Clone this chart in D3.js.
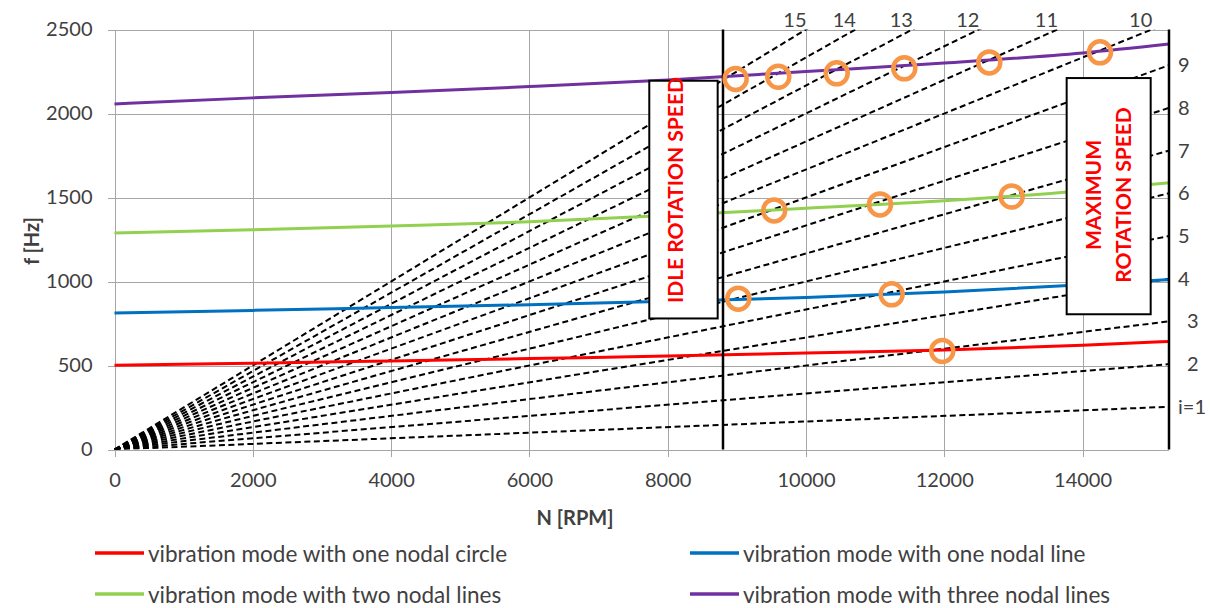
<!DOCTYPE html>
<html>
  <head>
    <meta charset="utf-8">
    <title>Campbell diagram</title>
    <script src="https://cdn.jsdelivr.net/npm/d3@7/dist/d3.min.js"></script>
    <style>
      body {
        margin: 0px;
        overflow: hidden;
        background: white;
      }

      text {
        font-family: Lato, "Open Sans", sans-serif;
        fill: #404040;
      }

      .grid line {
        stroke: #a6a6a6;
        stroke-width: 1px;
        shape-rendering: crispEdges;
      }

      .order {
        fill: none;
        stroke: black;
        stroke-width: 2px;
        stroke-dasharray: 6 3.5;
      }

      .mode {
        fill: none;
        stroke-width: 3px;
      }

      .speed-line {
        stroke: black;
        stroke-width: 2.5px;
      }

      .note-box {
        fill: white;
        stroke: black;
        stroke-width: 2px;
      }

      .note {
        fill: red;
        font-weight: bold;
        font-size: 21px;
      }

      .resonance {
        fill: none;
        stroke: #f79646;
        stroke-width: 4.5px;
      }

      .axis-title {
        font-weight: bold;
        font-size: 20px;
      }
    </style>
  </head>
  <body>
    <svg id="container" width="1210" height="608"></svg>

    <script type="text/javascript">
      // rotation speed samples (RPM) where the mode frequencies were read
      var rpm = [0, 2000, 4000, 6000, 8000, 10000, 12000, 14000, 15250];

      var oneNodalCircle = [502, 514, 527, 541, 556, 574, 592, 620, 643];
      var oneNodalLine = [813, 828, 845, 862, 882, 905, 938, 980, 1011];
      var twoNodalLines = [1288, 1308, 1330, 1355, 1393, 1436, 1480, 1540, 1588];
      var threeNodalLines = [2057, 2093, 2125, 2160, 2200, 2250, 2300, 2360, 2413];

      var modeNames = [
        'vibration mode with one nodal circle',
        'vibration mode with one nodal line',
        'vibration mode with two nodal lines',
        'vibration mode with three nodal lines'
      ];
      var modeColors = ['#ff0000', '#0070c0', '#92d050', '#7030a0'];

      // engine orders i (f = i * N / 60)
      var orders = d3.range(1, 16);

      // resonance points marked with circles
      var resonanceN = [8983, 9600, 10444, 11422, 12651, 14252, 9540, 11070, 12975, 9021, 11239, 11971];
      var resonanceF = [2206, 2219, 2239, 2269, 2304, 2364, 1423, 1459, 1506, 898, 924, 587];

      var idleSpeed = 8800,
        maxSpeed = 15250;

      var xTicks = [0, 2000, 4000, 6000, 8000, 10000, 12000, 14000];
      var yTicks = [0, 500, 1000, 1500, 2000, 2500];

      var svg = d3.select('#container'),
        plotLeft = 114.5, plotRight = 1169, plotTop = 29.5, plotBottom = 449.5;

      var x = d3.scaleLinear().domain([0, maxSpeed]).range([plotLeft, plotRight]);
      var y = d3.scaleLinear().domain([0, 2500]).range([plotBottom, plotTop]);

      /*
        Grid and axes
      */
      var xAxis = svg.append('g')
        .attr('class', 'grid')
        .attr('transform', 'translate(0,' + plotBottom + ')')
        .call(d3.axisBottom(x).tickValues(xTicks).tickFormat(d3.format('d'))
          .tickSizeInner(7).tickSizeOuter(0).tickPadding(16));
      xAxis.select('.domain').remove();
      xAxis.selectAll('.tick line').attr('y1', plotTop - plotBottom);
      xAxis.selectAll('.tick text').style('font-size', '20px').attr('fill', null);

      var yAxis = svg.append('g')
        .attr('class', 'grid')
        .attr('transform', 'translate(' + plotLeft + ',0)')
        .call(d3.axisLeft(y).tickValues(yTicks).tickFormat(d3.format('d'))
          .tickSizeInner(7).tickSizeOuter(0).tickPadding(15));
      yAxis.select('.domain').remove();
      yAxis.selectAll('.tick line').attr('x1', plotRight - plotLeft);
      yAxis.selectAll('.tick text').style('font-size', '20px').attr('fill', null);

      svg.append('text')
        .attr('class', 'axis-title')
        .attr('transform', 'translate(31,241) rotate(-90)')
        .attr('text-anchor', 'middle')
        .attr('dominant-baseline', 'central')
        .text('f [Hz]');

      svg.append('text')
        .attr('class', 'axis-title')
        .attr('x', 575)
        .attr('y', 517)
        .attr('text-anchor', 'middle')
        .attr('dominant-baseline', 'central')
        .text('N [RPM]');

      svg.append('clipPath')
        .attr('id', 'plot-clip')
        .append('rect')
        .attr('x', plotLeft)
        .attr('y', plotTop)
        .attr('width', plotRight - plotLeft)
        .attr('height', plotBottom - plotTop);

      /*
        Engine order lines
      */
      var orderLine = d3.line()
        .x(function(d) { return x(d[0]); })
        .y(function(d) { return y(d[1]); });

      svg.append('g')
        .attr('clip-path', 'url(#plot-clip)')
        .selectAll('path')
        .data(orders)
        .enter()
        .append('path')
        .attr('class', 'order')
        .attr('d', function(i) { return orderLine([[0, 0], [maxSpeed, i * maxSpeed / 60]]); });

      // labels on the right for orders that reach the right edge, on top for the rest
      svg.append('g')
        .selectAll('text')
        .data(orders)
        .enter()
        .append('text')
        .style('font-size', '20px')
        .each(function(i) {
          var t = d3.select(this),
            fEnd = i * maxSpeed / 60;
          if (fEnd <= 2500) {
            t.attr('x', plotRight + (i === 2 || i === 3 ? 18 : 9))
              .attr('y', y(fEnd) - 1)
              .attr('dominant-baseline', 'central')
              .text(i === 1 ? 'i=1' : i);
          } else {
            t.attr('x', x(2500 * 60 / i) - 11)
              .attr('y', 19)
              .attr('text-anchor', 'middle')
              .attr('dominant-baseline', 'central')
              .text(i);
          }
        });

      /*
        Vibration modes
      */
      var modes = [oneNodalCircle, oneNodalLine, twoNodalLines, threeNodalLines];

      var modeLine = d3.line()
        .curve(d3.curveMonotoneX)
        .x(function(d, k) { return x(rpm[k]); })
        .y(function(d) { return y(d); });

      svg.append('g')
        .selectAll('path')
        .data(modes)
        .enter()
        .append('path')
        .attr('class', 'mode')
        .attr('stroke', function(d, k) { return modeColors[k]; })
        .attr('d', modeLine);

      /*
        Idle and maximum rotation speed
      */
      svg.selectAll('.speed-line')
        .data([idleSpeed, maxSpeed])
        .enter()
        .append('line')
        .attr('class', 'speed-line')
        .attr('x1', function(d) { return x(d); })
        .attr('x2', function(d) { return x(d); })
        .attr('y1', plotTop)
        .attr('y2', plotBottom);

      var notes = [
        { n0: 7734, n1: 8723, f0: 780, f1: 2195, lines: ['IDLE ROTATION SPEED'], cx: 674.5, cy: 190 },
        { n0: 13770, n1: 14985, f0: 805, f1: 2211, lines: ['MAXIMUM', 'ROTATION SPEED'], cx: 1107, cy: 195 }
      ];

      var note = svg.selectAll('.note-group')
        .data(notes)
        .enter()
        .append('g')
        .attr('class', 'note-group');

      note.append('rect')
        .attr('class', 'note-box')
        .attr('x', function(d) { return x(d.n0); })
        .attr('y', function(d) { return y(d.f1); })
        .attr('width', function(d) { return x(d.n1) - x(d.n0); })
        .attr('height', function(d) { return y(d.f0) - y(d.f1); });

      note.each(function(d) {
        var g = d3.select(this),
          n = d.lines.length;
        d.lines.forEach(function(line, k) {
          g.append('text')
            .attr('class', 'note')
            .attr('text-anchor', 'middle')
            .attr('dominant-baseline', 'central')
            .attr('transform', 'translate(' + (d.cx + (k - (n - 1) / 2) * 30) + ',' + d.cy + ') rotate(-90)')
            .text(line);
        });
      });

      /*
        Resonance circles
      */
      svg.append('g')
        .selectAll('circle')
        .data(resonanceN)
        .enter()
        .append('circle')
        .attr('class', 'resonance')
        .attr('cx', function(d) { return x(d); })
        .attr('cy', function(d, k) { return y(resonanceF[k]); })
        .attr('r', 11);

      /*
        Legend
      */
      var legend = svg.append('g')
        .selectAll('g')
        .data(modeNames)
        .enter()
        .append('g')
        .attr('transform', function(d, k) {
          return 'translate(' + (k % 2 ? 690 : 95) + ',' + (k < 2 ? 553 : 594) + ')';
        });

      legend.append('line')
        .attr('x1', 0)
        .attr('x2', 49)
        .attr('stroke', function(d, k) { return modeColors[k]; })
        .attr('stroke-width', 3.5);

      legend.append('text')
        .attr('x', 53)
        .attr('dominant-baseline', 'central')
        .style('font-size', '22.5px')
        .text(function(d) { return d; });
    </script>
  </body>
</html>
